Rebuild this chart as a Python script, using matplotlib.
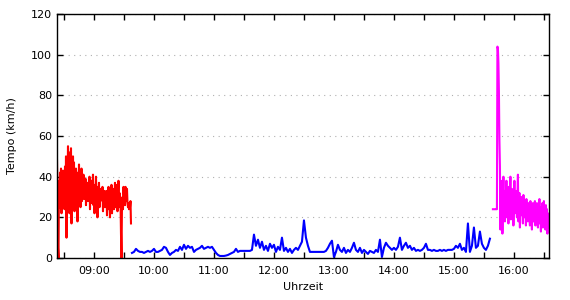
import matplotlib
matplotlib.use('Agg')
import matplotlib.pyplot as plt
from matplotlib.ticker import MultipleLocator, FuncFormatter
import numpy as np

# speed samples (km/h); each series starts at a clock time and has a fixed sample step (minutes)
red_start = '08:23'
red_step = 0.5
red_speed = [48, 30, 5, 0, 38, 25, 42, 28, 44, 22, 40, 26, 43, 30, 38,
             24, 45, 28, 50, 10, 48, 35, 55, 30, 52, 22, 46, 38, 54, 17,
             44, 28, 50, 35, 47, 23, 40, 30, 44, 26, 42, 18, 38, 30, 46,
             32, 40, 25, 36, 44, 28, 38, 33, 41, 29, 37, 31, 39, 26, 35,
             30, 37, 28, 35, 32, 40, 24, 36, 30, 38, 27, 34, 41, 26, 33,
             22, 36, 30, 40, 28, 33, 20, 35, 31, 37, 25, 32, 28, 34, 30,
             29, 35, 23, 31, 27, 33, 25, 30,
             26, 33, 21, 31, 27, 35, 24, 30, 20, 32, 28, 36, 22, 30, 26,
             34, 24, 29, 37, 25, 31, 28, 36, 23, 30, 38, 27, 32, 25, 29,
             12, 0, 27, 30, 24, 35, 29, 33, 26, 35, 31, 28, 34, 27, 25,
             27, 24, 26, 25, 28, 17]

blue_start = '09:38'
blue_step = 2
blue_speed = [2.5, 3, 4.5, 3.5, 3, 3, 2.5, 3, 3.5, 3,
              3.5, 4.5, 3, 3, 3.5, 4, 5.5, 5, 3, 1.5,
              2.5, 3, 4, 3.5, 5.5, 4, 6.5, 4.5, 6, 5,
              5.5, 3, 4, 4.5, 5, 6, 4.5, 5, 5.5, 5,
              5.5, 4, 2.5, 1.5, 1, 1, 1, 1.2, 1.5, 2,
              2.5, 3, 4.5, 3, 3.5, 3.5, 3.5, 3.5, 3.5, 3.5,
              4, 11.5, 6, 9, 5, 8, 4, 6, 3.5, 7,
              5, 6.5, 3, 5.5, 4, 10, 3.5, 5, 3, 4.5,
              2.5, 4, 5, 4, 6, 8, 18.5, 10, 6, 3,
              3, 3, 3, 3, 3, 3, 3, 3.5, 5, 7,
              8.5, 0.5, 3, 6.5, 4, 3, 5, 2.5, 4, 3,
              5, 7.5, 4, 3, 5, 2.5, 4, 3, 2, 3.5,
              3, 2.5, 4, 3, 9, 0.5, 5, 7.5, 6, 5,
              4, 5, 4, 5.5, 10, 4, 6, 7.5, 5, 6,
              4, 5, 3.5, 4, 3.5, 4, 5, 7, 4, 4,
              3.5, 4, 3.5, 3.5, 4, 3.5, 4, 3.5, 4, 4,
              4, 4.5, 6, 5, 7, 4, 5, 3, 17, 3,
              6, 15, 5, 6, 13, 7, 5, 4, 6, 9.5]

magenta_start = '15:39'
magenta_step = 0.5
magenta_speed = [24, 24, 24, 24, 24, 24, 24, 24, 24,
                 104, 103, 96, 82, 58, 45, 14, 38,
                 20, 35, 12, 28, 40, 22, 33, 18,
                 30, 24, 38, 20, 32, 27, 17, 35,
                 22, 30, 40, 19, 28, 34, 24, 31,
                 16, 28, 38, 22, 30, 26, 33, 20,
                 29, 41, 18, 25, 32, 15, 28, 23,
                 30, 21, 27, 17, 31, 24, 28, 20,
                 26, 16, 29, 22, 25, 18, 27, 21,
                 24, 16, 28, 20, 26, 14, 23, 27,
                 18, 25, 21, 28, 16, 24, 19, 27,
                 22, 15, 26, 20, 29, 17, 23, 13,
                 25, 20, 27, 15, 24, 28, 18, 22,
                 14, 26, 20, 24, 12, 22, 18, 15]


def to_min(s):
    h, m = s.split(':')
    return int(h) * 60 + int(m)


def times(start, step, vals):
    return to_min(start) + step * np.arange(len(vals))


plt.rcParams['font.family'] = 'DejaVu Sans'
fig = plt.figure(figsize=(5.7, 3.0), dpi=100)
ax = fig.add_axes([0.1, 0.14, 0.863, 0.813])

ax.plot(times(red_start, red_step, red_speed), red_speed, color='#ff0000', lw=1.5)
ax.plot(times(blue_start, blue_step, blue_speed), blue_speed, color='#0000ff', lw=1.5)
ax.plot(times(magenta_start, magenta_step, magenta_speed), magenta_speed, color='#ff00ff', lw=1.5)

ax.set_xlim(to_min('08:23'), to_min('16:35'))
ax.set_ylim(0, 120)
ax.xaxis.set_major_locator(MultipleLocator(60))
ax.xaxis.set_minor_locator(MultipleLocator(30))
ax.xaxis.set_major_formatter(FuncFormatter(lambda v, p: '%02d:%02d' % (int(v) // 60, int(v) % 60)))
ax.yaxis.set_major_locator(MultipleLocator(20))
ax.tick_params(which='both', direction='in', top=True, right=True, length=4, width=1, labelsize=8)
ax.tick_params(axis='x', pad=6)
ax.yaxis.grid(True, linestyle=(0, (1, 4)), color='#b0b0b0', lw=0.8)
for sp in ax.spines.values():
    sp.set_linewidth(1)
ax.set_xlabel('Uhrzeit', fontsize=8)
ax.set_ylabel('Tempo (km/h)', fontsize=8, labelpad=10)

fig.savefig('out.png', dpi=100)
